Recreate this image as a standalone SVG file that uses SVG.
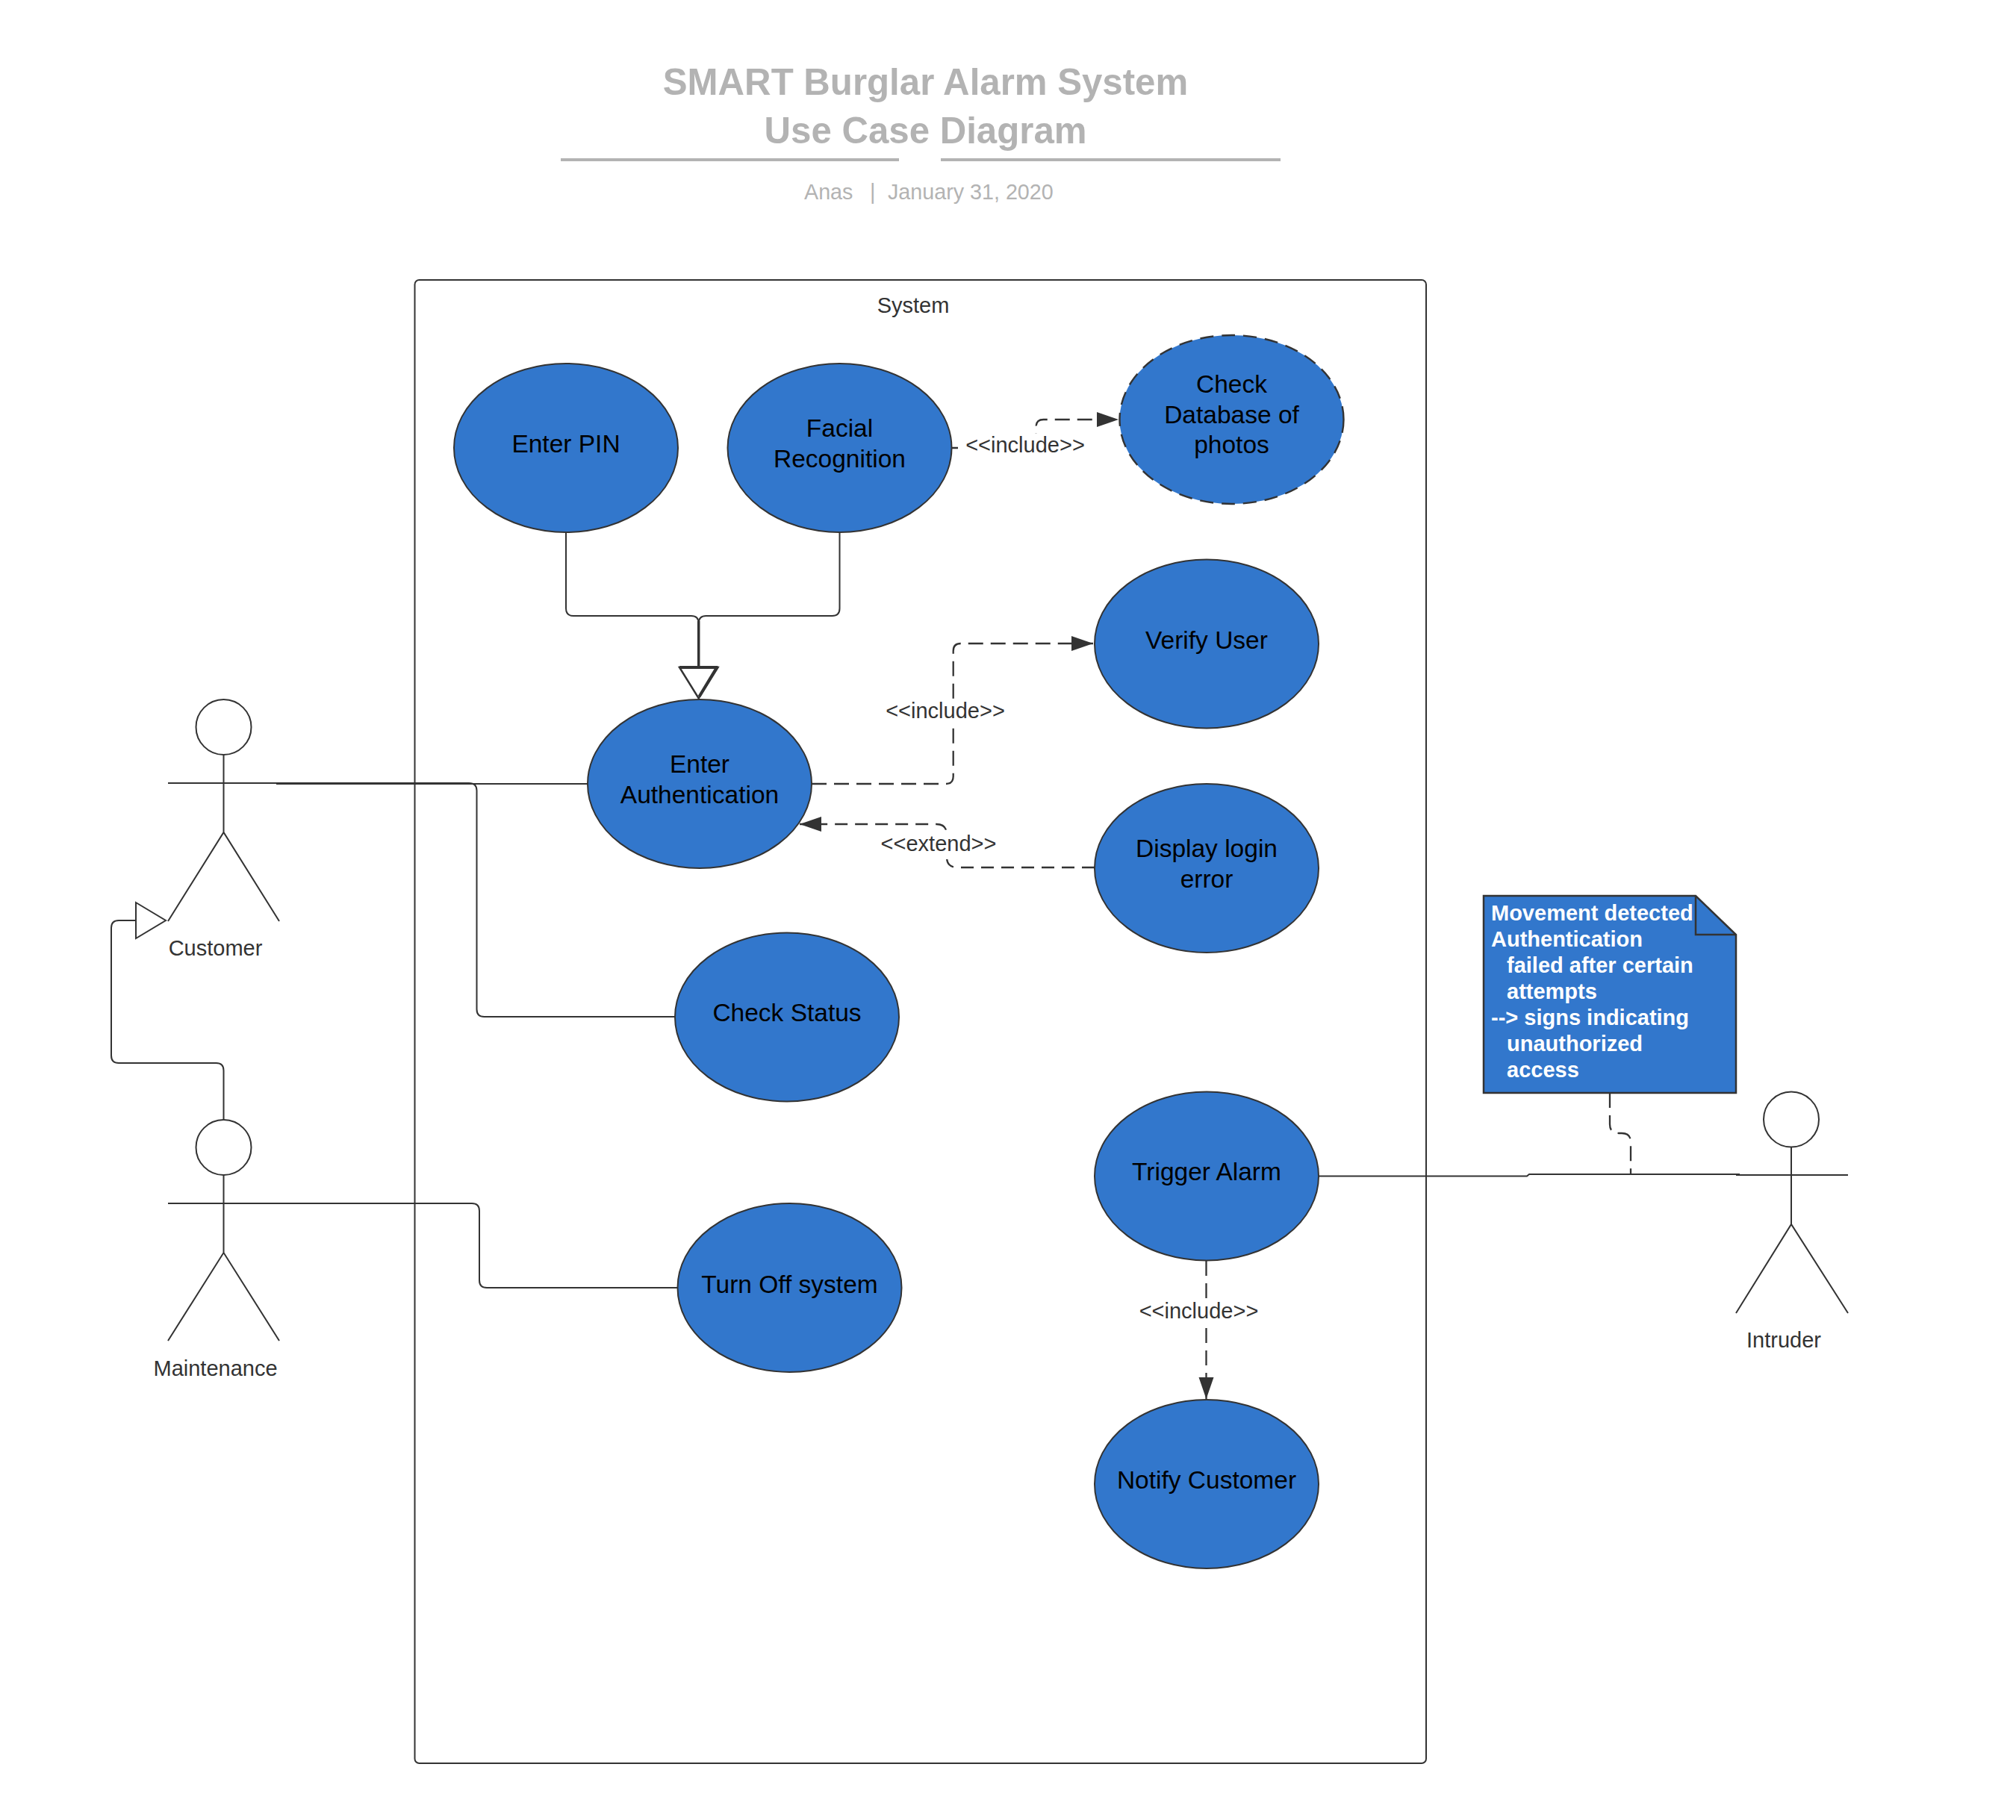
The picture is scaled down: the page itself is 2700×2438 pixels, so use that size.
<svg xmlns="http://www.w3.org/2000/svg" width="2700" height="2438" viewBox="0 0 2700 2438">
<style>
text{font-family:"Liberation Sans",Arial,sans-serif}
.uc{fill:#3277cc;stroke:#333;stroke-width:2}
.ucd{fill:#3277cc;stroke:#333;stroke-width:2.4;stroke-dasharray:18 11}
.ut{font-size:33.500px;fill:#000;text-anchor:middle}
.lb{font-size:29px;fill:#333;text-anchor:middle}
.bg{fill:#fff}
.ln{fill:none;stroke:#333;stroke-width:2}
.da{fill:none;stroke:#333;stroke-width:2.300;stroke-dasharray:20 10}
.act{fill:none;stroke:#333;stroke-width:2}
.nt{font-size:29px;font-weight:bold;fill:#fff}
.ti{font-size:49.200px;font-weight:bold;fill:#b3b3b3;text-anchor:middle}
.su{font-size:28.700px;fill:#b3b3b3}
</style>
<defs>
<marker id="arr" markerUnits="userSpaceOnUse" markerWidth="32" markerHeight="22" refX="29" refY="10" orient="auto"><path d="M0 0L29 10L0 20Z" fill="#333"/></marker>
</defs>
<rect width="2700" height="2438" fill="#fff"/>
<g id="title">
<text class="ti" x="1239.500" y="127">SMART Burglar Alarm System</text>
<text class="ti" x="1239.500" y="191.500">Use Case Diagram</text>
<path d="M751 214H1204M1260 214H1715" fill="none" stroke="#b3b3b3" stroke-width="4"/>
<text class="su" x="1077" y="267">Anas</text>
<text class="su" x="1165" y="267">|</text>
<text class="su" x="1189" y="267">January 31, 2020</text>
</g>
<g id="system">
<rect x="555.500" y="375" width="1354.500" height="1987" rx="6" fill="none" stroke="#333" stroke-width="2"/>
<text class="lb" x="1223" y="419">System</text>
</g>
<g id="connectors">
<path class="ln" d="M370 1050H787"/>
<path class="ln" d="M374 1049H628Q638.500 1049 638.500 1059V1352Q638.500 1362 648.500 1362H904"/>
<path class="ln" d="M370 1612H632Q642 1612 642 1622V1715Q642 1725 652 1725H908"/>
<path class="ln" d="M299.500 1500V1434Q299.500 1424 289.500 1424H159Q149 1424 149 1414V1243Q149 1233 159 1233H182"/>
<path class="ln" d="M758 713V815Q758 825 768 825H925.700Q935.700 825 935.700 835V894"/>
<path class="ln" d="M1124.500 713V815Q1124.500 825 1114.500 825H945.700Q935.700 825 935.700 835V894"/>
<path d="M935.700 894V832" fill="none" stroke="#333" stroke-width="3.500"/>
<path d="M910 894H961.500L935.700 935.500Z" fill="#fff" stroke="#333" stroke-width="2.500"/>
<path d="M910 894H961.500M959.500 895L936.500 933" fill="none" stroke="#333" stroke-width="4"/>
<path d="M182 1209L222 1233L182 1257Z" fill="#fff" stroke="#333" stroke-width="2"/>
<path class="ln" d="M1766 1575.500H2045L2048 1573H2330"/>
<path class="da" d="M2156 1464V1506Q2156 1518 2168 1518H2172Q2184 1518 2184 1530V1573"/>
<path class="da" stroke-dashoffset="11" marker-end="url(#arr)" d="M1274 600H1377.500Q1387.500 600 1387.500 590V572Q1387.500 562 1397.500 562H1498"/>
<path class="da" marker-end="url(#arr)" d="M1087 1050H1266.700Q1276.700 1050 1276.700 1040V872Q1276.700 862 1286.700 862H1464"/>
<path class="da" style="stroke-dasharray:17 10" marker-end="url(#arr)" d="M1466 1162H1282Q1268 1162 1268 1148V1118Q1268 1104 1254 1104H1071"/>
<path class="da" marker-end="url(#arr)" d="M1615.500 1689V1874"/>
<rect class="bg" x="1290" y="581" width="166" height="36"/>
<rect class="bg" x="1183" y="938" width="166" height="36"/>
<rect class="bg" x="1176" y="1115" width="162" height="36"/>
<rect class="bg" x="1523" y="1742" width="166" height="36"/>
<text class="lb" x="1373" y="605.500">&lt;&lt;include&gt;&gt;</text>
<text class="lb" x="1266" y="962">&lt;&lt;include&gt;&gt;</text>
<text class="lb" x="1257" y="1139.500">&lt;&lt;extend&gt;&gt;</text>
<text class="lb" x="1605.500" y="1766">&lt;&lt;include&gt;&gt;</text>
</g>
<g id="uc-pin"><ellipse class="uc" cx="758" cy="600" rx="150" ry="113"/><text class="ut" x="758" y="606">Enter PIN</text></g>
<g id="uc-face"><ellipse class="uc" cx="1124.500" cy="600" rx="150" ry="113"/><text class="ut" x="1124.500" y="585">Facial</text><text class="ut" x="1124.500" y="626">Recognition</text></g>
<g id="uc-db"><ellipse class="ucd" cx="1649.500" cy="562" rx="150" ry="113"/><text class="ut" x="1649.500" y="526">Check</text><text class="ut" x="1649.500" y="566.500">Database of</text><text class="ut" x="1649.500" y="607">photos</text></g>
<g id="uc-verify"><ellipse class="uc" cx="1616" cy="862.500" rx="150" ry="113"/><text class="ut" x="1616" y="868.500">Verify User</text></g>
<g id="uc-auth"><ellipse class="uc" cx="937" cy="1050" rx="150" ry="113"/><text class="ut" x="937" y="1034.500">Enter</text><text class="ut" x="937" y="1075.500">Authentication</text></g>
<g id="uc-login"><ellipse class="uc" cx="1616" cy="1163" rx="150" ry="113"/><text class="ut" x="1616" y="1147.500">Display login</text><text class="ut" x="1616" y="1188.500">error</text></g>
<g id="uc-status"><ellipse class="uc" cx="1054" cy="1362.500" rx="150" ry="113"/><text class="ut" x="1054" y="1368">Check Status</text></g>
<g id="uc-off"><ellipse class="uc" cx="1057.500" cy="1725" rx="150" ry="113"/><text class="ut" x="1057.500" y="1731.500">Turn Off system</text></g>
<g id="uc-trigger"><ellipse class="uc" cx="1616" cy="1575.500" rx="150" ry="113"/><text class="ut" x="1616" y="1581">Trigger Alarm</text></g>
<g id="uc-notify"><ellipse class="uc" cx="1616" cy="1988" rx="150" ry="113"/><text class="ut" x="1616" y="1993.500">Notify Customer</text></g>
<g id="note">
<path d="M1987 1200H2271L2325 1252V1464H1987Z" fill="#3277cc" stroke="#333" stroke-width="2.500"/>
<path d="M2271 1200V1252H2325" fill="none" stroke="#333" stroke-width="2.500"/>
<text class="nt" x="1997" y="1233">Movement detected</text>
<text class="nt" x="1997" y="1267.500">Authentication</text>
<text class="nt" x="2018" y="1303">failed after certain</text>
<text class="nt" x="2018" y="1338">attempts</text>
<text class="nt" x="1997" y="1373">--&gt; signs indicating</text>
<text class="nt" x="2018" y="1408">unauthorized</text>
<text class="nt" x="2018" y="1443">access</text>
</g>
<g id="actor-customer"><circle class="act" cx="299.500" cy="974" r="37"/><path class="act" d="M299.500 1011V1115M225 1049H374M225 1234L299.500 1115L374 1234"/><text class="lb" x="288.500" y="1279.500">Customer</text></g>
<g id="actor-maintenance"><circle class="act" cx="299.500" cy="1537" r="37"/><path class="act" d="M299.500 1574V1678M225 1612H374M225 1796L299.500 1678L374 1796"/><text class="lb" x="288.500" y="1842.500">Maintenance</text></g>
<g id="actor-intruder"><circle class="act" cx="2399" cy="1499.500" r="37"/><path class="act" d="M2399 1536.500V1640M2325 1574H2475M2325 1759L2399 1640L2475 1759"/><text class="lb" x="2389" y="1805">Intruder</text></g>
</svg>
